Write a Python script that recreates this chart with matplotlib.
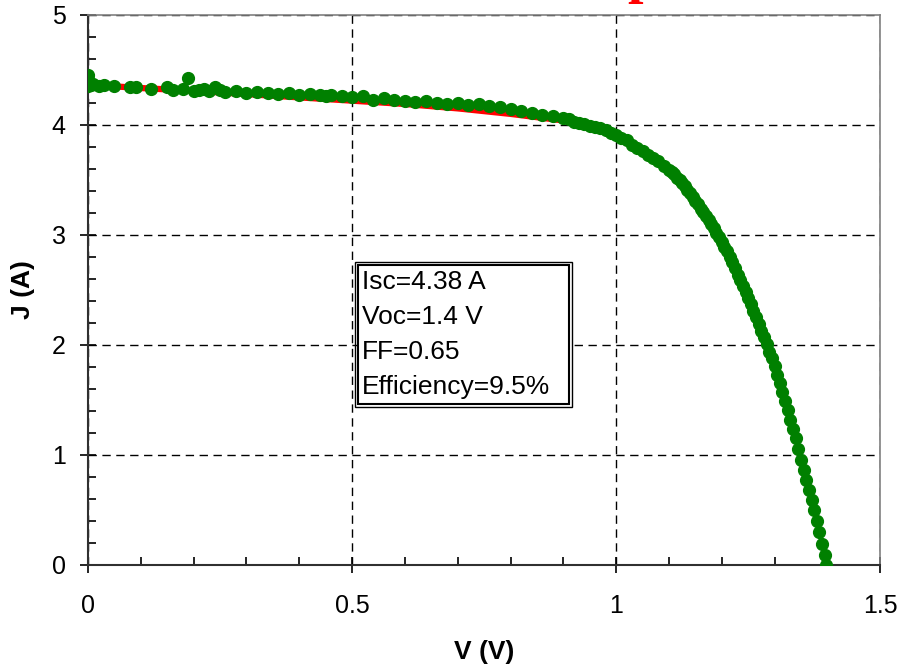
import matplotlib.pyplot as plt
from matplotlib.patches import Rectangle
from matplotlib.ticker import MultipleLocator

voltage = [0.0, 0.0, 0.0, 0.0, 0.005, 0.01, 0.02, 0.03, 0.05, 0.08, 0.09, 0.12,
           0.15, 0.16, 0.18, 0.19, 0.20, 0.21, 0.22, 0.23, 0.24, 0.25, 0.26, 0.28,
           0.30, 0.32, 0.34, 0.36, 0.38, 0.40, 0.42, 0.44, 0.45, 0.46, 0.48, 0.50,
           0.52, 0.54, 0.56, 0.58, 0.60, 0.62, 0.64, 0.66, 0.68, 0.70, 0.72, 0.74,
           0.76, 0.78, 0.80, 0.82, 0.84, 0.86, 0.88, 0.90, 0.91, 0.92, 0.93, 0.94,
           0.95, 0.96, 0.97, 0.98, 0.99, 1.00, 1.01, 1.02, 1.03, 1.04, 1.05, 1.06,
           1.07, 1.08, 1.09, 1.100, 1.105, 1.110, 1.115, 1.120, 1.125, 1.130,
           1.135, 1.140, 1.145, 1.150, 1.155, 1.160, 1.165, 1.170, 1.175, 1.180,
           1.185, 1.190, 1.195, 1.200, 1.205, 1.210, 1.215, 1.220, 1.225, 1.230,
           1.235, 1.240, 1.245, 1.250, 1.255, 1.260, 1.265, 1.270, 1.275, 1.280,
           1.285, 1.290, 1.295, 1.300, 1.305, 1.310, 1.315, 1.320, 1.325, 1.330,
           1.335, 1.340, 1.345, 1.350, 1.355, 1.360, 1.365, 1.370, 1.375, 1.380,
           1.385, 1.390, 1.395, 1.398]
current = [4.45, 4.42, 4.38, 4.35, 4.36, 4.37, 4.35, 4.36, 4.35, 4.34, 4.34, 4.33,
           4.34, 4.32, 4.33, 4.43, 4.31, 4.32, 4.33, 4.31, 4.34, 4.32, 4.30, 4.31,
           4.29, 4.30, 4.29, 4.28, 4.29, 4.27, 4.28, 4.27, 4.26, 4.27, 4.26, 4.25,
           4.26, 4.23, 4.24, 4.23, 4.22, 4.21, 4.22, 4.20, 4.19, 4.20, 4.18, 4.19,
           4.17, 4.16, 4.14, 4.13, 4.11, 4.09, 4.08, 4.06, 4.05, 4.03, 4.02, 4.01,
           3.99, 3.98, 3.97, 3.95, 3.93, 3.91, 3.88, 3.86, 3.82, 3.79, 3.76, 3.73,
           3.70, 3.67, 3.63, 3.59, 3.57, 3.55, 3.52, 3.50, 3.47, 3.44,
           3.41, 3.38, 3.34, 3.31, 3.28, 3.24, 3.21, 3.17, 3.14, 3.10,
           3.06, 3.02, 2.98, 2.94, 2.89, 2.85, 2.80, 2.75, 2.70, 2.64,
           2.59, 2.54, 2.48, 2.43, 2.37, 2.31, 2.25, 2.19, 2.13, 2.07,
           2.01, 1.94, 1.88, 1.81, 1.73, 1.65, 1.57, 1.49, 1.41, 1.32,
           1.24, 1.15, 1.05, 0.95, 0.86, 0.77, 0.68, 0.59, 0.50, 0.40,
           0.30, 0.19, 0.09, 0.00]

# red fitted curve, seen under the dots on the flat part only
fit_v = [0.0, 0.05, 0.1, 0.2, 0.3, 0.4, 0.5, 0.6, 0.7, 0.8, 0.9, 0.95]
fit_j = [4.37, 4.35, 4.335, 4.31, 4.28, 4.25, 4.22, 4.19, 4.15, 4.10, 4.04,
         3.99]

box_lines = ['Isc=4.38 A', 'Voc=1.4 V', 'FF=0.65', 'Efficiency=9.5%']

plt.rcParams['font.family'] = ['Liberation Sans', 'DejaVu Sans']

fig = plt.figure(figsize=(9, 6.67), dpi=100)
ax = fig.add_axes([0.0978, 0.153, 0.8802, 0.8247])

ax.plot(fit_v, fit_j, color='red', linewidth=4.5, zorder=3)
ax.plot(voltage, current, linestyle='none', marker='o', markersize=8.5,
        color='#008000', zorder=4)

ax.set_xlim(0, 1.5)
ax.set_ylim(0, 5)
ax.xaxis.set_major_locator(MultipleLocator(0.5))
ax.xaxis.set_minor_locator(MultipleLocator(0.1))
ax.yaxis.set_major_locator(MultipleLocator(1))
ax.yaxis.set_minor_locator(MultipleLocator(0.2))
ax.set_xticks([0, 0.5, 1, 1.5], ['0', '0.5', '1', '1.5'])
ax.tick_params(which='major', direction='inout', length=12, width=1.2,
               labelsize=18)
ax.tick_params(axis='x', which='major', pad=15)
ax.tick_params(axis='y', which='major', pad=10)
ax.tick_params(which='minor', direction='in', length=6, width=1.2)

ax.grid(True, which='major', color='black', linestyle=(0, (6, 4)), linewidth=1)
for sp in ['top', 'right']:
    ax.spines[sp].set_color('#808080')
    ax.spines[sp].set_linewidth(1.2)
for sp in ['left', 'bottom']:
    ax.spines[sp].set_color('#303030')
    ax.spines[sp].set_linewidth(1.5)

ax.set_xlabel('V (V)', fontsize=19, fontweight='bold', labelpad=16)
ax.set_ylabel('J (A)', fontsize=19, fontweight='bold', labelpad=12)

# double framed text box
ax.add_patch(Rectangle((0.5057, 1.436), 0.411, 1.319, fill=False,
                       edgecolor='black', linewidth=1, zorder=5))
ax.add_patch(Rectangle((0.5114, 1.464), 0.3996, 1.263, facecolor='white',
                       edgecolor='black', linewidth=1.5, zorder=5))
for i, line in enumerate(box_lines):
    ax.text(0.519, 2.573 - i * 0.318, line, fontsize=19, va='center',
            ha='left', zorder=6)

# cut-off red title above the plot
fig.text(0.697, 1.012, 'p', color='red', fontsize=40, fontweight='bold',
         family='Liberation Serif', va='baseline', ha='left')

fig.savefig('out.png', dpi=100)
